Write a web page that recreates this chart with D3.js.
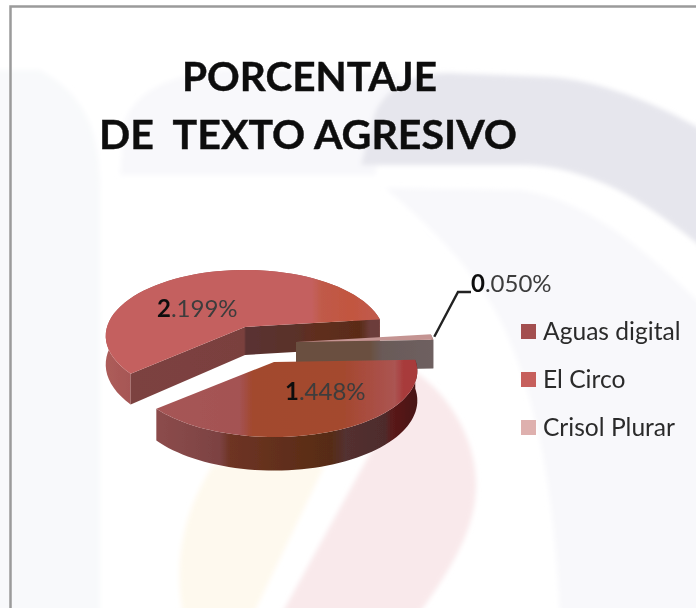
<!DOCTYPE html>
<html>
<head>
<meta charset="utf-8">
<script src="https://cdn.jsdelivr.net/npm/d3@7"></script>
<style>
  html, body { margin: 0; padding: 0; background: #fff; }
  svg { display: block; }
  text { font-family: Lato, "Open Sans", sans-serif; }
</style>
</head>
<body>
<div id="chart"></div>
<script>
let categories = ['Aguas digital', 'El Circo', 'Crisol Plurar']
let values = [1.448, 2.199, 0.05]
let labels = ['1.448%', '2.199%', '0.050%']
let legendColors = ['#a34f4f', '#c65f5c', '#deb0ae']
let titleLines = ['PORCENTAJE', 'DE\u00a0\u00a0TEXTO AGRESIVO']

let width = 696
let height = 608

let svg = d3
  .select('#chart')
  .append('svg')
  .attr('width', width)
  .attr('height', height)

let defs = svg.append('defs')

defs
  .append('filter')
  .attr('id', 'soft')
  .append('feGaussianBlur')
  .attr('stdDeviation', 0.6)

defs
  .append('filter')
  .attr('id', 'softer')
  .attr('x', '-10%')
  .attr('y', '-10%')
  .attr('width', '120%')
  .attr('height', '120%')
  .append('feGaussianBlur')
  .attr('stdDeviation', 2.5)

// horizontal gradients, stops are [x in px, colour]
function gradient(id, stops) {
  let x = d3
    .scaleLinear()
    .domain([stops[0][0], stops[stops.length - 1][0]])
    .range([0, 100])
  let g = defs
    .append('linearGradient')
    .attr('id', id)
    .attr('gradientUnits', 'userSpaceOnUse')
    .attr('x1', stops[0][0])
    .attr('x2', stops[stops.length - 1][0])
    .attr('y1', 0)
    .attr('y2', 0)
  stops.forEach(s => {
    g.append('stop')
      .attr('offset', x(s[0]) + '%')
      .attr('stop-color', s[1])
  })
  return `url(#${id})`
}

// washed out watermark behind the chart

let bg = svg.append('g').attr('filter', 'url(#softer)')

let watermark = [
  { fill: '#f8f9fb', d: 'M-5,70 L40,70 C85,95 100,130 100,190 L100,615 L-5,615 Z' },
  { fill: '#f8f8fb', d: 'M120,175 L125,120 C140,85 180,70 260,68 L400,73 L375,175 Z' },
  { fill: '#e6e6ed', d: 'M361,165 L375,113 C385,90 410,73 448,73 L548,77 C600,80 660,105 702,130 L702,247 C670,222 630,190 581,175 C555,166 535,165 515,165 Z' },
  { fill: '#f8f8fb', d: 'M385,188 L520,190 C590,200 650,255 702,305 L702,615 L560,615 C555,520 545,420 505,330 C480,275 430,225 385,188 Z' },
  { fill: '#fef9ee', d: 'M183,615 C175,570 178,520 213,465 L325,465 L253,615 Z' },
  { fill: '#f9e9eb', d: 'M281,615 L415,372 C450,395 476,440 476,485 C476,530 450,570 418,615 Z' }
]

bg.selectAll('path')
  .data(watermark)
  .enter()
  .append('path')
  .attr('d', d => d.d)
  .attr('fill', d => d.fill)

// frame

svg
  .append('path')
  .attr('d', `M10.5,${height} L10.5,6.5 L${width},6.5`)
  .attr('fill', 'none')
  .attr('stroke', '#9b9b9b')
  .attr('stroke-width', 2.5)

// pie angles, clockwise from 12 o'clock

let pie = d3
  .pie()
  .sort(null)
  .startAngle((88 * Math.PI) / 180)
  .endAngle((448 * Math.PI) / 180)

let arcs = pie(values)

// each slice is exploded by hand like in the original 3d chart
let layout = [
  { cx: 274, cy: 362, rx: 142, depth: 29 },
  { cx: 245, cy: 327, rx: 138, depth: 28 },
  { cx: 296, cy: 342, rx: 138, depth: 29 }
]

// tilted disc with some perspective, near edge gets bigger
let k = 0.136
let ry = 64.8

function project(slice, a, down) {
  let u = Math.sin(a)
  let v = -Math.cos(a)
  let s = 1 / (1 - k * v)
  return [
    slice.cx + slice.rx * u * s,
    slice.cy + ry * v * s + (down ? slice.depth * s : 0)
  ]
}

function arcPoints(slice, arc, down) {
  return d3
    .range(0, 61)
    .map(i =>
      project(
        slice,
        arc.startAngle + ((arc.endAngle - arc.startAngle) * i) / 60,
        down
      )
    )
}

let line = d3.line()

let fills = [
  {
    top: gradient('top0', [[157, '#a65656'], [240, '#a45252'], [252, '#a2492f'], [345, '#a4492f'], [362, '#a84c3c'], [395, '#ab5452'], [404, '#a83a3a'], [418, '#a83a3a']]),
    outer: gradient('out0', [[157, '#8c4c4c'], [220, '#7c4242'], [230, '#6e3424'], [280, '#622f1c'], [330, '#572c14'], [345, '#533030'], [385, '#4e2c2c'], [392, '#5a1a1a'], [418, '#481414']]),
    wall: '#6e3a36'
  },
  {
    top: gradient('top1', [[105, '#c4605e'], [312, '#c4605e'], [322, '#c05a48'], [352, '#c25640'], [382, '#c05c50']]),
    outer: gradient('out1', [[105, '#ad5c5a'], [135, '#a55654']]),
    wall: gradient('wall1', [[133, '#7c4240'], [244, '#7a403e'], [246, '#5a3232'], [300, '#5a3028'], [310, '#602e20'], [360, '#5a2c18'], [370, '#6c3c3a'], [382, '#6c3c3a']])
  },
  {
    top: '#c49492',
    outer: '#6e5e5e',
    wall: gradient('wall2', [[296, '#6a5040'], [370, '#6a5040'], [382, '#6a5a58'], [434, '#6e6060']])
  }
]

let pieG = svg.append('g').attr('filter', 'url(#soft)')

// back slice first, the front one covers part of the thin slice
let drawOrder = [1, 2, 0]

drawOrder.forEach(i => {
  let slice = layout[i]
  let arc = arcs[i]
  let apex = [slice.cx, slice.cy]
  let apexDown = [slice.cx, slice.cy + slice.depth]
  let top = arcPoints(slice, arc, false)
  let bottom = arcPoints(slice, arc, true)

  // rim
  pieG
    .append('path')
    .attr('d', line(top.concat(bottom.slice().reverse())) + 'Z')
    .attr('fill', fills[i].outer)

  // cut walls, only the ones turned to the viewer
  let walls = []
  if (Math.sin(arc.endAngle) > 0) {
    walls.push([apex, top[top.length - 1], bottom[bottom.length - 1], apexDown])
  }
  if (Math.sin(arc.startAngle) < 0) {
    walls.push([apex, top[0], bottom[0], apexDown])
  }
  pieG
    .selectAll('.wall-' + i)
    .data(walls)
    .enter()
    .append('path')
    .attr('class', 'wall-' + i)
    .attr('d', d => line(d) + 'Z')
    .attr('fill', fills[i].wall)

  // top face
  pieG
    .append('path')
    .attr('d', line([apex].concat(top)) + 'Z')
    .attr('fill', fills[i].top)
})

// leader line for the small slice

let tip = project(layout[2], arcs[2].endAngle, false)

svg
  .append('path')
  .attr('d', line([[tip[0] + 1, tip[1] - 3], [458, 292], [471, 292]]))
  .attr('fill', 'none')
  .attr('stroke', '#222')
  .attr('stroke-width', 2.4)

// title

let textG = svg.append('g').attr('filter', 'url(#soft)')

textG
  .selectAll('.title')
  .data(titleLines)
  .enter()
  .append('text')
  .attr('class', 'title')
  .attr('x', (d, i) => (i === 0 ? 182 : 99))
  .attr('y', (d, i) => (i === 0 ? 90.5 : 148.5))
  .attr('font-size', 41)
  .attr('font-weight', 700)
  .attr('fill', '#0c0c0c')
  .attr('stroke', '#0c0c0c')
  .attr('stroke-width', 0.4)
  .attr('textLength', (d, i) => (i === 0 ? 255 : 418))
  .attr('lengthAdjust', 'spacingAndGlyphs')
  .text(d => d)

// value labels, the whole part is bold

let labelPos = [[285, 400], [157, 317], [471, 292]]

let valueLabels = textG
  .selectAll('.value')
  .data(labels)
  .enter()
  .append('text')
  .attr('class', 'value')
  .attr('x', (d, i) => labelPos[i][0])
  .attr('y', (d, i) => labelPos[i][1])
  .attr('font-size', 24)
  .attr('fill', '#3c3c3c')

valueLabels
  .append('tspan')
  .attr('font-weight', 700)
  .attr('fill', '#111')
  .text(d => d.split('.')[0])

valueLabels.append('tspan').text(d => '.' + d.split('.')[1])

// legend

let legendY = d3
  .scalePoint()
  .domain(categories)
  .range([331.5, 427.5])

let colorScale = d3
  .scaleOrdinal()
  .domain(categories)
  .range(legendColors)

let legend = textG
  .selectAll('.legend-entry')
  .data(categories)
  .enter()
  .append('g')
  .attr('class', 'legend-entry')
  .attr('transform', d => `translate(521,${legendY(d)})`)

legend
  .append('rect')
  .attr('y', -7.5)
  .attr('width', 15)
  .attr('height', 15)
  .attr('fill', d => colorScale(d))

legend
  .append('text')
  .attr('x', 22)
  .attr('y', 8)
  .attr('font-size', 24.6)
  .attr('fill', '#2c2c2c')
  .text(d => d)
</script>
</body>
</html>
